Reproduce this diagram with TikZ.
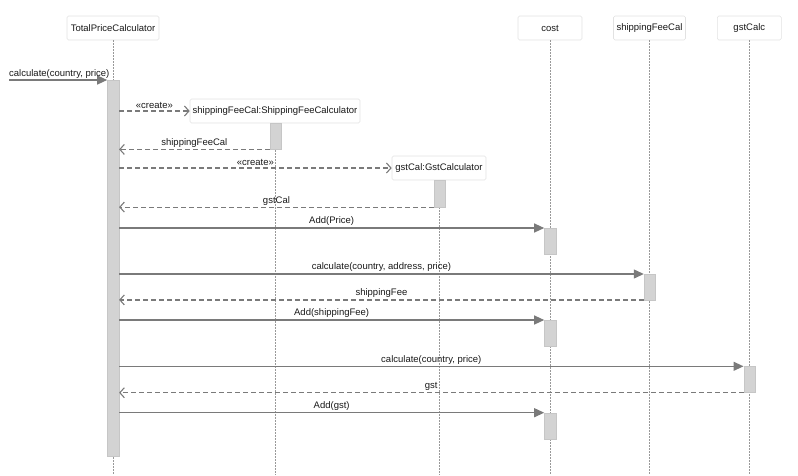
\documentclass[tikz,border=0pt]{standalone}
\usepackage{fontspec}
\setmainfont{Liberation Sans}
\usetikzlibrary{arrows.meta}
\definecolor{arr}{HTML}{7A7A7A}
\definecolor{act}{HTML}{D3D3D3}
\definecolor{actb}{HTML}{C6C6C6}
\definecolor{hdr}{HTML}{E2E2E2}
\definecolor{life}{HTML}{999999}
\begin{document}
\begin{tikzpicture}[x=1pt,y=-1pt,
  font=\fontsize{9.5}{11}\selectfont,
  hdrbox/.style={draw=hdr,line width=0.6pt,fill=white,rounded corners=1.5pt,inner sep=0pt,minimum height=24pt,text=black!90},
  lifeline/.style={draw=life,line width=0.6pt,dash pattern=on 1.5pt off 1.5pt},
  actbox/.style={draw=actb,fill=act,line width=0.4pt,inner sep=0pt,anchor=north west,minimum width=11.5pt},
  msg/.style={draw=arr,line width=1.2pt,-{Triangle[length=10pt,width=9pt]}},
  ret/.style={draw=arr,line width=1.2pt,dash pattern=on 5pt off 3pt,-{Straight Barb[length=4.5pt,width=10pt,line width=1.1pt]}},
  lbl/.style={text=black!90,inner sep=1.5pt,above,midway}
]
\useasboundingbox (0,0) rectangle (798,475);
% headers
\node[hdrbox,minimum width=92pt] (tpc) at (113,28) {TotalPriceCalculator};
\node[hdrbox,minimum width=64pt] (cost) at (550,28) {cost};
\node[hdrbox,minimum width=72pt] (sfc) at (649.5,28) {shippingFeeCal};
\node[hdrbox,minimum width=64pt] (gstc) at (749.3,28) {gstCalc};
% lifelines
\coordinate (tpcend) at (113,475);
\coordinate (costend) at (550,475);
\coordinate (sfcend) at (649.5,475);
\coordinate (gstcend) at (749.3,475);
\coordinate (sfcobjend) at (275.3,475);
\coordinate (gstobjend) at (439.5,475);
\draw[lifeline] (tpc.south) -- (tpcend);
\draw[lifeline] (cost.south) -- (costend);
\draw[lifeline] (sfc.south) -- (sfcend);
\draw[lifeline] (gstc.south) -- (gstcend);
\draw[lifeline] (275.3,123) -- (sfcobjend);
\draw[lifeline] (439.5,180) -- (gstobjend);
% created objects
\node[hdrbox,minimum width=170pt] (sfcobj) at (275,111) {shippingFeeCal:ShippingFeeCalculator};
\node[hdrbox,minimum width=94pt] (gstobj) at (439,168) {gstCal:GstCalculator};
% activations
\node[actbox,minimum height=376pt] (tpcact) at (107.2,80) {};
\node[actbox,minimum height=26pt] (sfcact) at (269.6,123) {};
\node[actbox,minimum height=26.7pt] (gstact) at (433.8,180) {};
\node[actbox,minimum height=25.5pt] (costact1) at (544.2,228) {};
\node[actbox,minimum height=25.5pt] (sfcact2) at (643.8,274) {};
\node[actbox,minimum height=26pt] (costact2) at (544.2,320) {};
\node[actbox,minimum height=26pt] (gstcact) at (743.5,366.3) {};
\node[actbox,minimum height=26pt] (costact3) at (544.2,412.7) {};
% messages
\coordinate (start) at (9,80);
\draw[msg] (start) -- (tpcact.north west);
\node[text=black!90,inner sep=0pt,anchor=base west] (startlbl) at (9,76.5) {calculate(country, price)};
\draw[ret] (tpcact.east |- sfcobj.west) -- (sfcobj.west) node[lbl] {«create»};
\draw[ret] (sfcact.south west) -- (tpcact.east |- sfcact.south) node[lbl] {shippingFeeCal};
\draw[ret] (tpcact.east |- gstobj.west) -- (gstobj.west) node[lbl] {«create»};
\draw[ret] (gstact.south west) -- (tpcact.east |- gstact.south) node[lbl] {gstCal};
\draw[msg] (tpcact.east |- costact1.north) -- (costact1.north west) node[lbl] {Add(Price)};
\draw[msg] (tpcact.east |- sfcact2.north) -- (sfcact2.north west) node[lbl] {calculate(country, address, price)};
\draw[ret] (sfcact2.south west) -- (tpcact.east |- sfcact2.south) node[lbl] {shippingFee};
\draw[msg] (tpcact.east |- costact2.north) -- (costact2.north west) node[lbl] {Add(shippingFee)};
\draw[msg] (tpcact.east |- gstcact.north) -- (gstcact.north west) node[lbl] {calculate(country, price)};
\draw[ret] (gstcact.south west) -- (tpcact.east |- gstcact.south) node[lbl] {gst};
\draw[msg] (tpcact.east |- costact3.north) -- (costact3.north west) node[lbl] {Add(gst)};
\end{tikzpicture}
\end{document}
